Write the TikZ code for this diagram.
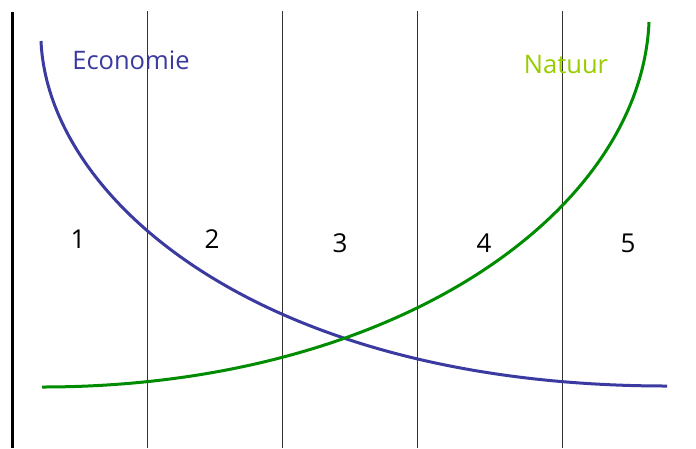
\documentclass[tikz,border=0pt]{standalone}
\usepackage{fontspec}
\setmainfont{Open Sans}
\usetikzlibrary{positioning}
\definecolor{ecoblue}{RGB}{58,58,160}
\definecolor{natgreen}{RGB}{0,140,0}
\definecolor{natlabel}{RGB}{153,204,0}

\begin{document}
\begin{tikzpicture}[
  x=1pt, y=-1pt,
  zone/.style={draw=black!80, line width=0.9pt},
  axisline/.style={draw=black, line width=3pt},
  curve/.style={line width=3pt},
  num/.style={font=\fontsize{26}{30}\selectfont, text=black, inner sep=0pt},
  tag/.style={font=\fontsize{25.5}{30}\selectfont, inner sep=0pt}
]
\useasboundingbox (0,0) rectangle (696,448);

\draw[axisline] (12,12) -- (12,448);
\draw[zone] (147,11) -- (147,448);
\draw[zone] (282,11) -- (282,448);
\draw[zone] (417,11) -- (417,448);
\draw[zone] (562,11) -- (562,448);

% curves
\coordinate (ecoA) at (41,41);
\coordinate (ecoB) at (667,386);
\coordinate (natA) at (42,387);
\coordinate (natB) at (649,22);
\draw[curve, ecoblue] (ecoA) .. controls (48,200) and (262,386) .. (ecoB);
\draw[curve, natgreen] (natA) .. controls (395,387) and (641,212) .. (natB);

\node[tag, text=ecoblue] (eco) at (131,60) {Economie};
\node[tag, text=natlabel] (nat) at (566,65) {Natuur};

\node[num] (z1) at (78,239) {1};
\node[num] (z2) at (212,239) {2};
\node[num] (z3) at (340,243) {3};
\node[num] (z4) at (484,243) {4};
\node[num] (z5) at (628,243) {5};
\end{tikzpicture}
\end{document}
